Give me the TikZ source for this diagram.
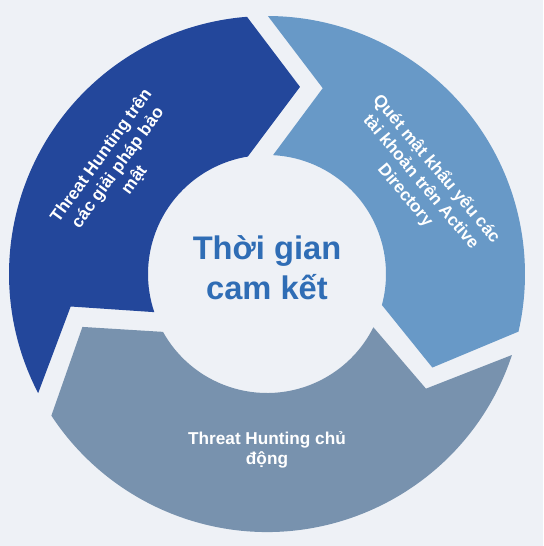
\documentclass[tikz,border=0pt]{standalone}
\usepackage{fontspec}
\setmainfont{Liberation Sans}
\definecolor{bgcol}{RGB}{238,241,246}
\definecolor{darkseg}{RGB}{35,71,155}
\definecolor{lightseg}{RGB}{104,153,199}
\definecolor{grayseg}{RGB}{120,146,174}
\definecolor{centertext}{RGB}{47,109,181}
\tikzset{
  segtext/.style={text=white, align=center, inner sep=0pt,
    font=\fontsize{12.9}{15.3}\selectfont\bfseries},
  maintext/.style={text=centertext, align=center, inner sep=0pt,
    font=\fontsize{24.5}{30}\selectfont\bfseries}
}
\begin{document}
\begin{tikzpicture}[x=0.75pt,y=0.75pt]
\fill[bgcol] (-267,-272) rectangle (276,274);
\useasboundingbox (-267,-272) rectangle (276,274);
% dark blue segment (top-left)
\fill[darkseg] (207.5:258) arc[start angle=207.5,end angle=94.45,radius=258]
  -- (80:190) -- (99.3:119) arc[start angle=99.3,end angle=198.7,radius=119]
  -- (189.4:199) -- cycle;
% light blue segment (right)
\fill[lightseg] (89.8:258) arc[start angle=89.8,end angle=-12.9,radius=258]
  -- (-29.5:190) -- (-15.1:119) arc[start angle=-15.1,end angle=87.1,radius=119]
  -- (73.3:194) -- cycle;
% gray segment (bottom)
\fill[grayseg] (-18.3:258) arc[start angle=-18.3,end angle=-146.7,radius=258]
  -- (196:192) -- (209.1:119) arc[start angle=209.1,end angle=333.4,radius=119]
  -- (-35.8:196) -- cycle;
\node[maintext] (center) at (0,6) {Thời gian\\cam kết};
\node[segtext, rotate=54] (t1) at (-149,106) {Threat Hunting trên\\các giải pháp bảo\\mật};
\node[segtext, rotate=-50] (t2) at (154,92) {Quét mật khẩu yếu các\\tài khoản trên Active\\Directory};
\node[segtext] (t3) at (0,-176) {Threat Hunting chủ\\động};
\end{tikzpicture}
\end{document}
